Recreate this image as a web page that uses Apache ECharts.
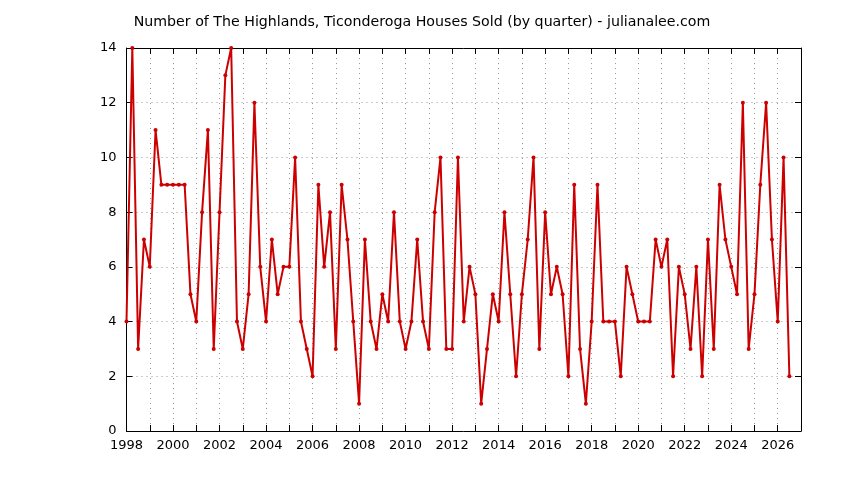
<!DOCTYPE html>
<html>
<head>
<meta charset="utf-8">
<script src="https://cdn.jsdelivr.net/npm/echarts@6/dist/echarts.min.js"></script>
<style>html,body{margin:0;padding:0;background:#fff}#c{width:844px;height:480px}</style>
</head>
<body>
<div id="c"></div>
<script>
var titleText = 'Number of The Highlands, Ticonderoga Houses Sold (by quarter) - julianalee.com';
var startYear = 1998;
var sold = [
  4, 14, 3, 7,
  6, 11, 9, 9,
  9, 9, 9, 5,
  4, 8, 11, 3,
  8, 13, 14, 4,
  3, 5, 12, 6,
  4, 7, 5, 6,
  6, 10, 4, 3,
  2, 9, 6, 8,
  3, 9, 7, 4,
  1, 7, 4, 3,
  5, 4, 8, 4,
  3, 4, 7, 4,
  3, 8, 10, 3,
  3, 10, 4, 6,
  5, 1, 3, 5,
  4, 8, 5, 2,
  5, 7, 10, 3,
  8, 5, 6, 5,
  2, 9, 3, 1,
  4, 9, 4, 4,
  4, 2, 6, 5,
  4, 4, 4, 7,
  6, 7, 2, 6,
  5, 3, 6, 2,
  7, 3, 9, 7,
  6, 5, 12, 3,
  5, 9, 12, 7,
  4, 10, 2
];
var xMin = 1998, xMax = 2027, yMin = 0, yMax = 14;

var points = sold.map(function (v, i) { return [startYear + i / 4, v]; });

var font = 'DejaVu Sans';
var chart = echarts.init(document.getElementById('c'), null, {renderer: 'canvas'});
chart.setOption({
  animation: false,
  backgroundColor: '#fff',
  title: {
    text: titleText, left: 'center', top: 10,
    textStyle: {fontFamily: font, fontSize: 14.2, fontWeight: 'normal', color: '#000'}
  },
  grid: {left: 126.5, right: 43, top: 48, bottom: 49, containLabel: false},
  xAxis: [{
    type: 'value', min: xMin, max: xMax, interval: 1,
    axisLine: {show: true, onZero: false, lineStyle: {color: '#000', width: 1}},
    axisTick: {show: true, inside: true, length: 6, lineStyle: {color: '#000'}},
    axisLabel: {
      color: '#000', fontFamily: font, fontSize: 13, margin: 8,
      formatter: function (v) { return (v % 2 === 0 && v < xMax) ? String(v) : ''; }
    },
    splitLine: {show: true, lineStyle: {color: '#999', type: [1, 4], width: 1}}
  }, {
    type: 'value', min: xMin, max: xMax, interval: 1, position: 'top',
    axisLine: {show: true, onZero: false, lineStyle: {color: '#000', width: 1}},
    axisTick: {show: true, inside: true, length: 6, lineStyle: {color: '#000'}},
    axisLabel: {show: false}, splitLine: {show: false}
  }],
  yAxis: [{
    type: 'value', min: yMin, max: yMax, interval: 2,
    axisLine: {show: true, onZero: false, lineStyle: {color: '#000', width: 1}},
    axisTick: {show: true, inside: true, length: 6, lineStyle: {color: '#000'}},
    axisLabel: {color: '#000', fontFamily: font, fontSize: 13, margin: 10},
    splitLine: {show: true, lineStyle: {color: '#999', type: [1, 4], width: 1}}
  }, {
    type: 'value', min: yMin, max: yMax, interval: 2, position: 'right',
    axisLine: {show: true, onZero: false, lineStyle: {color: '#000', width: 1}},
    axisTick: {show: true, inside: true, length: 6, lineStyle: {color: '#000'}},
    axisLabel: {show: false}, splitLine: {show: false}
  }],
  series: [{
    type: 'line', data: points, xAxisIndex: 0, yAxisIndex: 0,
    symbol: 'circle', symbolSize: 4, showSymbol: true,
    lineStyle: {color: '#cc0000', width: 2},
    itemStyle: {color: '#cc0000'},
    clip: false
  }]
});
</script>
</body>
</html>
